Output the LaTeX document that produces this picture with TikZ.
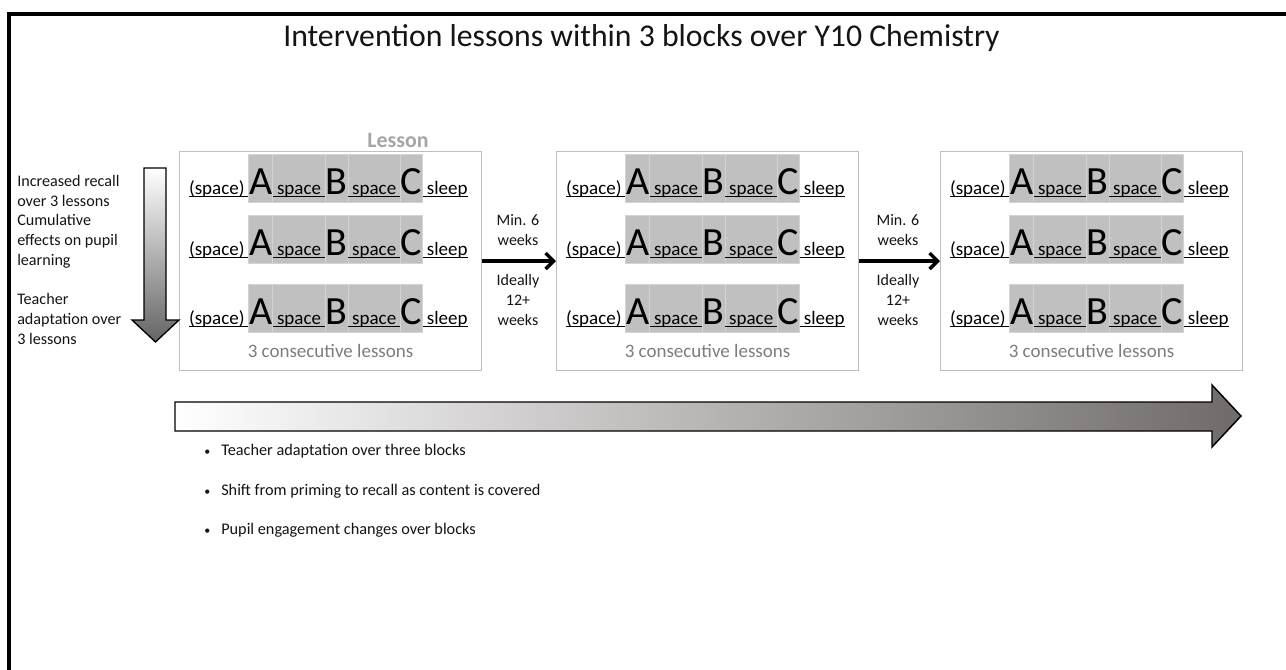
\documentclass[tikz,border=0pt]{standalone}
\usepackage{fontspec}
\setmainfont{Carlito}
\usetikzlibrary{arrows.meta}

\definecolor{cellgray}{RGB}{192,192,192}
\definecolor{cellline}{RGB}{212,212,212}
\definecolor{boxgray}{RGB}{190,190,190}
\definecolor{lessongray}{RGB}{166,166,166}
\definecolor{notegray}{RGB}{125,125,125}
\definecolor{inkdark}{RGB}{20,20,20}
\definecolor{downdark}{RGB}{100,100,100}
\definecolor{longdark}{RGB}{112,107,105}

% underlined text with the rule just below the baseline
\newsavebox\ulsave
\newcommand\ulbox[1]{\sbox\ulsave{#1}\rlap{\rule[-2.1pt]{\wd\ulsave}{0.95pt}}\usebox\ulsave}

\tikzset{
  smalltxt/.style={font=\fontsize{14.25}{17}\selectfont, inner sep=0pt, outer sep=0pt,
    anchor=base west, text height=30pt, text depth=6pt},
  bigtxt/.style={font=\fontsize{30}{34}\selectfont, inner xsep=0.3pt, inner ysep=0pt, outer sep=0pt,
    anchor=base west, text height=30pt, text depth=6pt},
  cell/.style={fill=cellgray, draw=cellline, line width=0.6pt},
  blockbox/.style={draw=boxgray, line width=0.8pt, anchor=north west,
    minimum width=226.5pt, minimum height=164.25pt, inner sep=0pt},
  gaptxt/.style={font=\fontsize{12}{15}\selectfont, align=center, inner sep=0pt, text=inkdark},
  gaparrow/.style={line width=3pt, -{Straight Barb[length=6pt,width=12pt,line width=2.6pt]}},
  bullettxt/.style={font=\fontsize{12.2}{14}\selectfont, anchor=base west, inner sep=0pt, text=inkdark},
}

% one row of a lesson: (space) A space B space C sleep
\newcommand\lessonrow[3]{%
  \node[smalltxt] (#1s0) at (#2,#3) {\ulbox{(space)\ }};
  \node[bigtxt,cell] (#1a) at (#1s0.base east) {A};
  \node[smalltxt,cell] (#1s1) at (#1a.base east) {\ulbox{\ space\ }};
  \node[bigtxt,cell] (#1b) at (#1s1.base east) {B};
  \node[smalltxt,cell] (#1s2) at (#1b.base east) {\ulbox{\ space\ }};
  \node[bigtxt,cell] (#1c) at (#1s2.base east) {C};
  \node[smalltxt] (#1s3) at (#1c.base east) {\ulbox{\ sleep}};
}

\begin{document}
\begin{tikzpicture}[x=0.75pt,y=-0.75pt]
\useasboundingbox (0,0) rectangle (1286,669);
\fill[white] (0,0) rectangle (1286,669);

% slide frame (top and left edges)
\draw[line width=2.4pt, line cap=rect] (1290,14) -- (9,14) -- (9,675);

% title
\node[font=\fontsize{23.8}{28}\selectfont, anchor=base, inner sep=0pt, text=inkdark] (title)
  at (641.5,46) {Intervention lessons within 3 blocks over Y10 Chemistry};

% the three blocks of lessons
\node[blockbox] (blk1) at (179,151) {};
\node[blockbox] (blk2) at (556,151) {};
\node[blockbox] (blk3) at (940,151) {};

\node[font=\fontsize{16.4}{18}\bfseries\selectfont, text=lessongray, anchor=base, inner sep=0pt]
  (lesson) at (398,147) {Lesson};

\lessonrow{ra1}{189}{194}
\lessonrow{ra2}{189}{255}
\lessonrow{ra3}{189}{324}
\lessonrow{rb1}{566}{194}
\lessonrow{rb2}{566}{255}
\lessonrow{rb3}{566}{324}
\lessonrow{rc1}{950}{194}
\lessonrow{rc2}{950}{255}
\lessonrow{rc3}{950}{324}

\foreach \b in {1,2,3}{
  \node[font=\fontsize{14.25}{16}\selectfont, text=notegray, anchor=base, inner sep=0pt]
    (cons\b) at (blk\b.south |- 0,357) {3 consecutive lessons};
}

% gaps between blocks
\draw[gaparrow] (blk1.east) -- (blk2.west);
\draw[gaparrow] (blk2.east) -- (blk3.west);
\node[gaptxt, anchor=south] (gapa1) at (518,246) {Min. 6\\weeks};
\node[gaptxt, anchor=north] (gapa2) at (518,274) {Ideally\\12+\\weeks};
\node[gaptxt, anchor=south] (gapb1) at (898,246) {Min. 6\\weeks};
\node[gaptxt, anchor=north] (gapb2) at (898,274) {Ideally\\12+\\weeks};

% progression within a block
\shade[top color=white, bottom color=downdark, draw=black, line width=1pt]
  (144,168) -- (166,168) -- (166,320) -- (179,320) -- (155.5,342) -- (132,320) -- (144,320) -- cycle;
\node[font=\fontsize{12.1}{14.8}\selectfont, align=left, anchor=north west, inner sep=0pt, text=inkdark]
  (within) at (17,175) {Increased recall\\over 3 lessons\\Cumulative\\effects on pupil\\learning\\[14.8pt]Teacher\\adaptation over\\3 lessons};

% progression across blocks
\shade[left color=white, right color=longdark, draw=black, line width=1.1pt]
  (175,402) -- (1212,402) -- (1212,385) -- (1241,416) -- (1212,447) -- (1212,431) -- (175,431) -- cycle;

\node[bullettxt] (bul1) at (204,455) {\makebox[12.75pt][l]{\fontsize{9}{9}\selectfont•}Teacher adaptation over three blocks};
\node[bullettxt] (bul2) at (204,495) {\makebox[12.75pt][l]{\fontsize{9}{9}\selectfont•}Shift from priming to recall as content is covered};
\node[bullettxt] (bul3) at (204,534) {\makebox[12.75pt][l]{\fontsize{9}{9}\selectfont•}Pupil engagement changes over blocks};
\end{tikzpicture}
\end{document}
